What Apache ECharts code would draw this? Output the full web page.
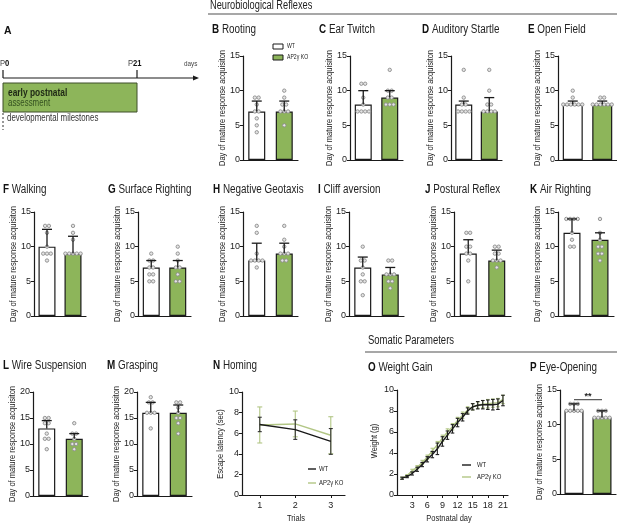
<!DOCTYPE html>
<html>
<head>
<meta charset="utf-8">
<title>AP2γ KO milestones</title>
<style>html,body{margin:0;padding:0;background:#fff;} #main{width:617px;height:523px;}</style>
</head>
<body>
<div id="main"></div>
<script src="https://cdn.jsdelivr.net/npm/echarts@6.0.0/dist/echarts.min.js"></script>
<script>
// ---- data ----
var panelLetters = ['B','C','D','E','F','G','H','I','J','K','L','M','P'];
var panelNames = ['Rooting','Ear Twitch','Auditory Startle','Open Field','Walking','Surface Righting',
                  'Negative Geotaxis','Cliff aversion','Postural Reflex','Air Righting','Wire Suspension','Grasping','Eye-Opening'];
var groups = ['WT', 'AP2γ KO'];
var yMax = [15,15,15,15,15,15,15,15,15,15,20,20,15];
var wtMean = [7,8,8,8,10,7,8,7,9,12,13,16,12];
var wtSD   = [1.5,2,0.5,0.5,2.5,1,2.5,1.5,2,2,1.5,2,1];
var koMean = [7,9,7,8,9,7,9,6,8,11,11,16,11];
var koSD   = [1.5,1,2,0.5,2.5,1,1.5,1,1.5,1,1,1.5,1];
var wtPoints = [
  [9,9,8,7,7,6,5,4], [11,11,9,8,7,7,7,7], [13,9,8,8,7,7,7,7], [10,9,8,8,8,8,8,8],
  [13,13,12,10,9,9,9,8], [9,8,8,7,7,6,6,5,5], [13,12,9,8,8,8,8,7], [10,8,8,7,6,5,5,3],
  [12,12,10,10,9,9,8,5], [14,14,14,14,12,11,10,10], [15,15,14,14,12,11,11,9], [19,18,18,16,16,16,13],
  [13,13,13,12,12,12,12,12]
];
var koPoints = [
  [10,9,8,8,7,7,7,5], [13,10,10,9,9,8,8,8], [13,10,8,8,7,7,7,7], [9,9,8,8,8,8,8,8],
  [13,12,11,9,9,9,9,9], [10,9,8,7,7,6,5,5], [13,11,10,9,9,9,8,8], [8,8,6,6,6,5,5,4],
  [10,10,9,9,8,8,8,7], [14,12,11,10,10,9,9,8], [14,12,12,11,10,10,9], [18,18,17,16,15,15,14,12],
  [12,12,12,11,11,11,11,11]
];

// N Homing
var trials = [1,2,3];
var homingWT = [6.85,6.35,5.2];
var homingWTsd = [0.7,0.95,1.25];
var homingKO = [6.8,6.9,5.8];
var homingKOsd = [1.75,1.25,1.8];

// O Weight gain
var days = [1,2,3,4,5,6,7,8,9,10,11,12,13,14,15,16,17,18,19,20,21];
var weightWT = [1.6,1.75,2.05,2.45,2.9,3.4,3.85,4.4,5.1,5.7,6.3,6.9,7.4,8.0,8.4,8.55,8.6,8.6,8.6,8.65,9.0];
var weightWTsd = [0.1,0.1,0.15,0.2,0.2,0.25,0.3,0.55,0.45,0.4,0.4,0.4,0.35,0.3,0.3,0.35,0.4,0.45,0.5,0.5,0.5];
var weightKO = [1.6,1.85,2.3,2.65,3.1,3.6,4.2,4.8,5.4,6.0,6.5,7.1,7.6,8.1,8.4,8.55,8.65,8.7,8.75,8.8,9.1];
var weightKOsd = [0.1,0.1,0.15,0.15,0.2,0.2,0.25,0.3,0.3,0.3,0.3,0.3,0.3,0.3,0.3,0.3,0.35,0.4,0.4,0.4,0.4];

// ---- styling ----
var FONT = "'Liberation Sans',Arial,sans-serif";
var NARROW = 0.79;            // squeeze to mimic the condensed figure font
var GREEN = '#8db55a';
var LIGHTGREEN = '#b2c685';
var INK = '#1a1a1a';
var YNAME = 'Day of mature response acquisiton';

// grid boxes for the bar panels (B..M, P)
var barBoxes = [
  {left:243, top:56, width:55, tx:212, ty:30, bw:17},
  {left:350, top:56, width:53, tx:319, ty:30, bw:17},
  {left:451, top:56, width:51, tx:422, ty:30, bw:17},
  {left:558, top:56, width:59, tx:528, ty:30, bw:20},
  {left:34,  top:212, width:52, tx:3,   ty:190, bw:17},
  {left:138, top:212, width:53, tx:108, ty:190, bw:17},
  {left:243, top:212, width:55, tx:213, ty:190, bw:17},
  {left:349, top:212, width:55, tx:318, ty:190, bw:17},
  {left:454, top:212, width:57, tx:425, ty:190, bw:17},
  {left:558, top:212, width:56, tx:530, ty:190, bw:17},
  {left:33,  top:392, width:55, tx:3,   ty:366, bw:17},
  {left:137, top:392, width:55, tx:107, ty:366, bw:17},
  {left:560, top:390, width:56, tx:530, ty:368, bw:19}
];

function dotData(wt, ko) {
  var out = [];
  [wt, ko].forEach(function (vals, cat) {
    var counts = {}, seen = {};
    vals.forEach(function (v) { counts[v] = (counts[v] || 0) + 1; });
    vals.forEach(function (v) {
      var j = seen[v] || 0;
      seen[v] = j + 1;
      out.push([cat, v, j - (counts[v] - 1) / 2]);
    });
  });
  return out;
}

function renderDot(params, api) {
  var c = api.coord([api.value(0), api.value(1)]);
  return {
    type: 'circle',
    shape: {cx: c[0] + api.value(2) * 3.8, cy: c[1], r: 1.7},
    style: {fill: '#e4e4e4', stroke: '#8c8c8c', lineWidth: 0.9}
  };
}

// upward error bar with a cap (bar panels)
function renderUpErr(params, api) {
  var x = api.value(0), m = api.value(1), s = api.value(2);
  var mid = api.coord([x, m]), top = api.coord([x, m + s]);
  var st = {stroke: INK, lineWidth: 1.3};
  return {type: 'group', children: [
    {type: 'line', shape: {x1: mid[0], y1: mid[1], x2: top[0], y2: top[1]}, style: st},
    {type: 'line', shape: {x1: top[0] - 5, y1: top[1], x2: top[0] + 5, y2: top[1]}, style: st}
  ]};
}

// symmetric error bar (line panels)
function makeErr(color, capW) {
  return function (params, api) {
    var x = api.value(0), m = api.value(1), s = api.value(2);
    var lo = api.coord([x, m - s]), hi = api.coord([x, m + s]);
    var st = {stroke: color, lineWidth: 1.1};
    return {type: 'group', children: [
      {type: 'line', shape: {x1: lo[0], y1: lo[1], x2: hi[0], y2: hi[1]}, style: st},
      {type: 'line', shape: {x1: hi[0] - capW, y1: hi[1], x2: hi[0] + capW, y2: hi[1]}, style: st},
      {type: 'line', shape: {x1: lo[0] - capW, y1: lo[1], x2: lo[0] + capW, y2: lo[1]}, style: st}
    ]};
  };
}

function zip3(a, b, c) {
  return a.map(function (v, i) { return [v, b[i], c[i]]; });
}

// text helper; narrow squeeze along the reading direction
function txt(x, y, s, size, extra, rot, sx) {
  var el = {type: 'text', x: x, y: y, scaleX: sx || NARROW, z: 10,
    style: Object.assign({text: s, fontSize: size, fill: '#222', fontFamily: FONT, verticalAlign: 'middle'}, extra || {})};
  if (rot) el.rotation = rot;
  return el;
}
function panelTitle(x, y, letter, name) {
  return txt(x, y, '{l|' + letter + '} ' + name, 12.5, {
    rich: {l: {fontSize: 12.5, fontWeight: 'bold', fill: '#111', fontFamily: FONT}}});
}
function yName(x, y, s) {
  return txt(x, y, s, 9.5, {align: 'center'}, Math.PI / 2);
}

var grids = [], xAxes = [], yAxes = [], series = [], graphics = [];
var axisLineStyle = {lineStyle: {color: INK, width: 1.2}};
var tickLabel = {fontSize: 9, color: '#222', fontFamily: FONT, margin: 3};

barBoxes.forEach(function (b, i) {
  grids.push({left: b.left, top: b.top, width: b.width, height: 104});
  xAxes.push({type: 'category', gridIndex: i, data: groups,
    axisLine: axisLineStyle, axisTick: {show: false}, axisLabel: {show: false}});
  yAxes.push({type: 'value', gridIndex: i, min: 0, max: yMax[i], interval: 5,
    axisLine: {show: true, lineStyle: {color: INK, width: 1.2}},
    axisTick: {show: true, length: 3, lineStyle: {color: INK}},
    axisLabel: tickLabel, splitLine: {show: false}});
  series.push({type: 'bar', xAxisIndex: i, yAxisIndex: i, barWidth: b.bw, z: 2,
    itemStyle: {borderColor: INK, borderWidth: 1.2},
    data: [{value: wtMean[i], itemStyle: {color: '#fff'}},
           {value: koMean[i], itemStyle: {color: GREEN}}]});
  series.push({type: 'custom', xAxisIndex: i, yAxisIndex: i, z: 3,
    renderItem: renderDot, data: dotData(wtPoints[i], koPoints[i])});
  series.push({type: 'custom', xAxisIndex: i, yAxisIndex: i, z: 4,
    renderItem: renderUpErr, data: [[0, wtMean[i], wtSD[i]], [1, koMean[i], koSD[i]]]});
  graphics.push(panelTitle(b.tx, b.ty, panelLetters[i], panelNames[i]));
  graphics.push(yName(b.left - 21, b.top + 52, YNAME));
});

// N Homing
var nI = barBoxes.length;
grids.push({left: 242, top: 392, width: 103, height: 103});
xAxes.push({type: 'value', gridIndex: nI, min: 0.5, max: 3.4,
  axisLine: axisLineStyle,
  axisTick: {show: true, length: 3, customValues: trials, lineStyle: {color: INK}},
  axisLabel: Object.assign({customValues: trials}, tickLabel, {margin: 6}),
  splitLine: {show: false}});
yAxes.push({type: 'value', gridIndex: nI, min: 0, max: 10, interval: 2,
  axisLine: {show: true, lineStyle: {color: INK, width: 1.2}},
  axisTick: {show: true, length: 3, lineStyle: {color: INK}},
  axisLabel: tickLabel, splitLine: {show: false}});
series.push({type: 'line', xAxisIndex: nI, yAxisIndex: nI, symbol: 'none', z: 3,
  lineStyle: {color: LIGHTGREEN, width: 1.4}, data: zip3(trials, homingKO, homingKOsd)});
series.push({type: 'custom', xAxisIndex: nI, yAxisIndex: nI, z: 3,
  renderItem: makeErr(LIGHTGREEN, 2.5), data: zip3(trials, homingKO, homingKOsd)});
series.push({type: 'line', xAxisIndex: nI, yAxisIndex: nI, symbol: 'none', z: 4,
  lineStyle: {color: INK, width: 1.4}, data: zip3(trials, homingWT, homingWTsd)});
series.push({type: 'custom', xAxisIndex: nI, yAxisIndex: nI, z: 4,
  renderItem: makeErr('#333', 2), data: zip3(trials, homingWT, homingWTsd)});
graphics.push(panelTitle(213, 366, 'N', 'Homing'));
graphics.push(yName(220, 444, 'Escape latency (sec)'));
graphics.push(txt(296, 518, 'Trials', 9.5, {align: 'center'}));

// O Weight gain
var oI = nI + 1;
var dayTicks = [3,6,9,12,15,18,21];
grids.push({left: 397, top: 390, width: 111, height: 105});
xAxes.push({type: 'value', gridIndex: oI, min: 0, max: 22,
  axisLine: axisLineStyle,
  axisTick: {show: true, length: 3, customValues: dayTicks, lineStyle: {color: INK}},
  axisLabel: Object.assign({customValues: dayTicks}, tickLabel, {margin: 6}),
  splitLine: {show: false}});
yAxes.push({type: 'value', gridIndex: oI, min: 0, max: 10, interval: 2,
  axisLine: {show: true, lineStyle: {color: INK, width: 1.2}},
  axisTick: {show: true, length: 3, lineStyle: {color: INK}},
  axisLabel: tickLabel, splitLine: {show: false}});
series.push({type: 'line', xAxisIndex: oI, yAxisIndex: oI, symbol: 'none', z: 3,
  lineStyle: {color: LIGHTGREEN, width: 1.4}, data: zip3(days, weightKO, weightKOsd)});
series.push({type: 'custom', xAxisIndex: oI, yAxisIndex: oI, z: 3,
  renderItem: makeErr(LIGHTGREEN, 1.8), data: zip3(days, weightKO, weightKOsd)});
series.push({type: 'line', xAxisIndex: oI, yAxisIndex: oI, symbol: 'none', z: 4,
  lineStyle: {color: INK, width: 1.4}, data: zip3(days, weightWT, weightWTsd)});
series.push({type: 'custom', xAxisIndex: oI, yAxisIndex: oI, z: 4,
  renderItem: makeErr('#222', 1.8), data: zip3(days, weightWT, weightWTsd)});
graphics.push(panelTitle(368, 368, 'O', 'Weight Gain'));
graphics.push(yName(374, 441, 'Weight (g)'));
graphics.push(txt(449, 518, 'Postnatal day', 9.5, {align: 'center'}));

// ---- fixed decorations: section headers, panel A diagram, legends ----
var rP = {n: {fontSize: 9, fontFamily: FONT, fill: '#444'},
          b: {fontSize: 9, fontWeight: 'bold', fontFamily: FONT, fill: '#111'}};
graphics = graphics.concat([
  txt(210, 6, 'Neurobiological Reflexes', 12.5, {}, 0, 0.74),
  {type: 'line', shape: {x1: 208, y1: 14, x2: 617, y2: 14}, style: {stroke: '#8a8a8a', lineWidth: 1.5}},
  txt(368, 341, 'Somatic Parameters', 12.5, {}, 0, 0.76),
  {type: 'line', shape: {x1: 365, y1: 352, x2: 617, y2: 352}, style: {stroke: '#8a8a8a', lineWidth: 1.5}},

  // panel A
  txt(4, 31, 'A', 11, {fontWeight: 'bold', fill: '#111'}, 0, 0.95),
  txt(0, 64, '{n|P}{b|0}', 9, {rich: rP}, 0, 0.85),
  txt(128, 64, '{n|P}{b|21}', 9, {rich: rP}, 0, 0.85),
  txt(184, 64, 'days', 8, {fill: '#444'}),
  {type: 'line', shape: {x1: 3, y1: 78, x2: 197, y2: 78}, style: {stroke: INK, lineWidth: 1.2}},
  {type: 'polygon', shape: {points: [[199, 78], [193, 75.5], [193, 80.5]]}, style: {fill: INK}},
  {type: 'line', shape: {x1: 3, y1: 70, x2: 3, y2: 78}, style: {stroke: INK, lineWidth: 1.2}},
  {type: 'line', shape: {x1: 137, y1: 70, x2: 137, y2: 78}, style: {stroke: INK, lineWidth: 1.2}},
  {type: 'rect', shape: {x: 3, y: 83, width: 134, height: 29}, style: {fill: GREEN, stroke: '#3e4f2b', lineWidth: 1}},
  txt(8, 93, 'early postnatal', 10, {fontWeight: 'bold', fill: '#1d2614'}, 0, 0.84),
  txt(8, 103, 'assessment', 10, {fill: '#33501f'}),
  {type: 'line', shape: {x1: 3, y1: 113, x2: 3, y2: 130}, style: {stroke: '#333', lineWidth: 1, lineDash: [2, 2]}},
  txt(7, 118, 'developmental milestones', 10, {fill: '#333'}),

  // legend in B
  {type: 'rect', shape: {x: 273, y: 44, width: 10, height: 5}, style: {fill: '#fff', stroke: INK, lineWidth: 1}},
  txt(287, 46.5, 'WT', 6.5),
  {type: 'rect', shape: {x: 273, y: 55, width: 10, height: 5}, style: {fill: GREEN, stroke: INK, lineWidth: 1}},
  txt(287, 57.5, 'AP2γ KO', 6.5),

  // legend in N
  {type: 'line', shape: {x1: 308, y1: 469, x2: 316, y2: 469}, style: {stroke: INK, lineWidth: 1.4}},
  txt(319, 469, 'WT', 7.5),
  {type: 'line', shape: {x1: 308, y1: 483, x2: 316, y2: 483}, style: {stroke: LIGHTGREEN, lineWidth: 1.4}},
  txt(319, 483, 'AP2γ KO', 7.5),

  // legend in O
  {type: 'line', shape: {x1: 462, y1: 465, x2: 471, y2: 465}, style: {stroke: INK, lineWidth: 1.4}},
  txt(477, 465, 'WT', 7.5),
  {type: 'line', shape: {x1: 462, y1: 477, x2: 471, y2: 477}, style: {stroke: LIGHTGREEN, lineWidth: 1.4}},
  txt(477, 477, 'AP2γ KO', 7.5)
]);

var chart = echarts.init(document.getElementById('main'));
chart.setOption({
  animation: false,
  backgroundColor: '#fff',
  grid: grids,
  xAxis: xAxes,
  yAxis: yAxes,
  series: series,
  graphic: graphics
});

// significance bracket over P, placed via the chart's own scale
var pI = panelLetters.indexOf('P');
var a = chart.convertToPixel({xAxisIndex: pI, yAxisIndex: pI}, [0, 13.6]);
var b = chart.convertToPixel({xAxisIndex: pI, yAxisIndex: pI}, [1, 13.6]);
graphics.push({type: 'line', shape: {x1: a[0], y1: a[1], x2: b[0], y2: b[1]}, style: {stroke: '#333', lineWidth: 1}});
graphics.push({type: 'text', x: (a[0] + b[0]) / 2, y: a[1] - 3,
  style: {text: '**', fontSize: 9, fontWeight: 'bold', fill: '#222', fontFamily: FONT, align: 'center', verticalAlign: 'middle'}});
chart.setOption({graphic: graphics});
</script>
</body>
</html>
